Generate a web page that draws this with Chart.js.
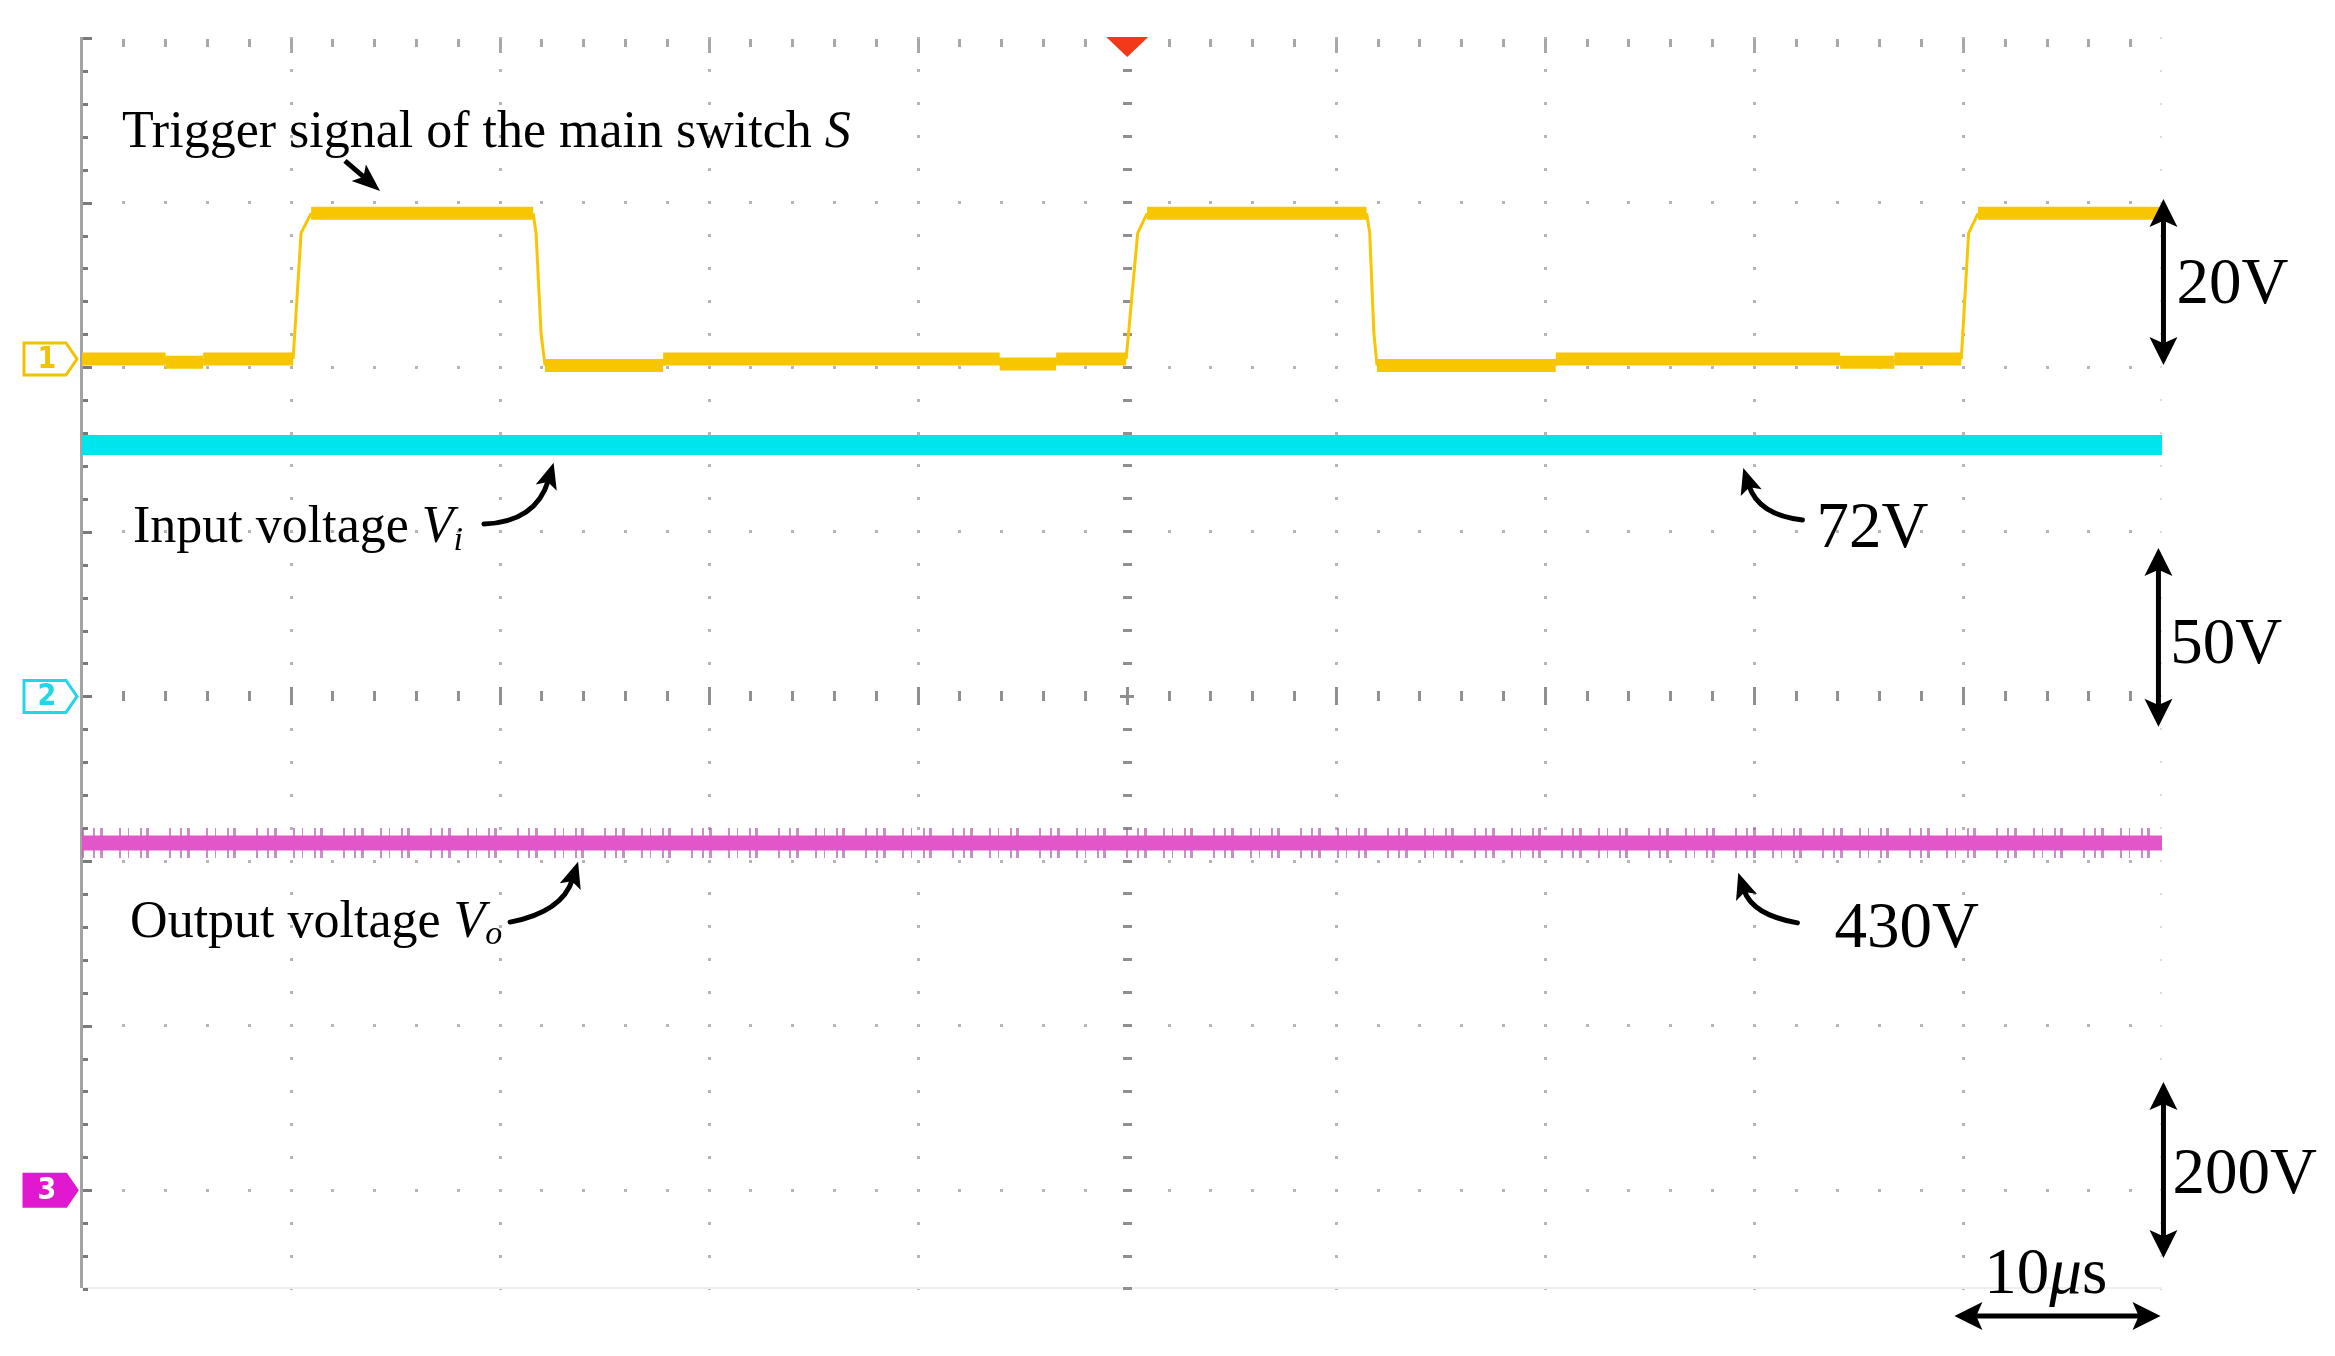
<!DOCTYPE html>
<html><head><meta charset="utf-8">
<script src="https://cdn.jsdelivr.net/npm/chart.js@4.4.1/dist/chart.umd.min.js"></script>
<style>html,body{margin:0;padding:0;background:#fff;}#wrap{width:2335px;height:1356px;position:relative;}</style>
</head><body><div id="wrap"><canvas id="c"></canvas></div>
<script>
// ---- data ----
// time in microseconds (10 us / div), voltages in volts
const trigTime = [0, 4.0, 4.0, 5.8, 5.8, 10.1, 10.48, 10.96, 21.58, 21.72, 21.96, 22.15, 27.8, 27.8, 43.9, 43.9, 46.6, 46.6, 49.95, 50.5, 50.95, 61.45, 61.6, 61.8, 61.95, 70.5, 70.5, 84.1, 84.1, 86.7, 86.7, 89.9, 90.25, 90.7, 99.45];
const trigVolt = [0, 0, -0.4, -0.4, 0, 0, 15.3, 17.7, 17.7, 15.3, 3.1, -0.8, -0.8, 0, 0, -0.6, -0.6, 0, 0, 15.3, 17.7, 17.7, 15.3, 3.1, -0.8, -0.8, 0, 0, -0.4, -0.4, 0, 0, 15.3, 17.7, 17.7];
const viTime = [0, 99.5];
const viVolt = [76.4, 76.4];
const voTime = [0, 99.5];
const voVolt = [422, 422];
const timeDivs = [0, 10, 20, 30, 40, 50, 60, 70, 80, 90];
const channels = ['1', '2', '3'];
const voltsPerDiv = [20, 50, 200];
const groundDiv = [2.05, 0, -3];
const scaleLabels = ['20V', '50V', '200V'];
const timeLabel = ['10', 'μ', 's'];

const toPts = (t, v, ch) => t.map((x, i) => ({x: x, y: groundDiv[ch] + v[i] / voltsPerDiv[ch]}));

const SERIF = '"Liberation Serif", "Times New Roman", serif';

const graticule = {
  id: 'graticule',
  beforeDatasetsDraw(chart) {
    const {ctx, chartArea: a, scales: {x, y}} = chart;
    ctx.save();
    const rect = (px, py, w, h, c) => { ctx.fillStyle = c; ctx.fillRect(Math.round(px - w / 2), Math.round(py - h / 2), w, h); };
    const yMinorVals = []; for (let k = 0; k <= 38; k++) yMinorVals.push(4 - k * 0.2);
    const xMinorVals = []; for (let k = 0; k <= 49; k++) xMinorVals.push(k * 2);
    timeDivs.forEach(t => {
      if (t === 0 || t === 50) return;
      const px = x.getPixelForValue(t);
      yMinorVals.forEach(d => rect(px, y.getPixelForValue(d), 3, 3, '#b5b5b5'));
    });
    yMinorVals.forEach(d => rect(a.right - 1, y.getPixelForValue(d), 2, 2, '#dddddd'));
    [3, 2, 1, -1, -2, -3].forEach(d => {
      const py = y.getPixelForValue(d);
      xMinorVals.forEach(t => { if (t > 0) rect(x.getPixelForValue(t), py, 3, 3, '#b5b5b5'); });
    });
    ctx.fillStyle = '#efefef'; ctx.fillRect(a.left, a.bottom - 1, a.right - a.left, 2);
    xMinorVals.forEach(t => { if (t === 0) return; const maj = t % 10 === 0; rect(x.getPixelForValue(t), a.top + (maj ? 8 : 5), 3, maj ? 14 : 8, '#a8a8a8'); });
    const cy = y.getPixelForValue(0);
    xMinorVals.forEach(t => { if (t === 0) return; const maj = t % 10 === 0; rect(x.getPixelForValue(t), cy, 3, maj ? 18 : 10, '#909090'); });
    const cx = x.getPixelForValue(50);
    yMinorVals.forEach(d => rect(cx, y.getPixelForValue(d), 9, 3, '#909090'));
    rect(cx, cy, 14, 3, '#909090');
    ctx.fillStyle = '#a3a3a3'; ctx.fillRect(a.left - 2, a.top - 1, 3, a.bottom - a.top + 1);
    yMinorVals.forEach((d, k) => { const maj = k % 5 === 0; ctx.fillStyle = '#7a7a7a'; ctx.fillRect(a.left + 1, Math.round(y.getPixelForValue(d)) - 1, maj ? 9 : 5, 3); });
    ctx.fillStyle = '#F23A1B';
    ctx.beginPath(); ctx.moveTo(cx - 21, a.top - 1); ctx.lineTo(cx + 21, a.top - 1); ctx.lineTo(cx, a.top + 19); ctx.closePath(); ctx.fill();
    ctx.restore();
  },
  afterDraw(chart) {
    const {ctx, chartArea: a, scales: {x, y}} = chart;
    const P = (t, d) => [x.getPixelForValue(t), y.getPixelForValue(d)];
    ctx.save();
    const mk = [{stroke: '#F2C200', fill: '#ffffff', text: '#F2C200'}, {stroke: '#22D6E6', fill: '#ffffff', text: '#22D6E6'}, {stroke: '#E018D0', fill: '#E018D0', text: '#ffffff'}];
    channels.forEach((c, i) => {
      const py = y.getPixelForValue(groundDiv[i]);
      const l = a.left - 58, r = a.left - 16, tip = a.left - 5, h = 16;
      ctx.beginPath(); ctx.moveTo(l, py - h); ctx.lineTo(r, py - h); ctx.lineTo(tip, py); ctx.lineTo(r, py + h); ctx.lineTo(l, py + h); ctx.closePath();
      ctx.fillStyle = mk[i].fill; ctx.fill(); ctx.lineWidth = 3; ctx.strokeStyle = mk[i].stroke; ctx.stroke();
      ctx.fillStyle = mk[i].text; ctx.font = 'bold 30px "DejaVu Sans Condensed", "DejaVu Sans", sans-serif'; ctx.textAlign = 'center'; ctx.textBaseline = 'middle';
      ctx.fillText(c, (l + r) / 2 + 2, py + 1);
    });
    ctx.textAlign = 'left'; ctx.textBaseline = 'alphabetic';
    ctx.fillStyle = '#000'; ctx.strokeStyle = '#000';

    const head = (tx, ty, ang, len, half) => {
      const bx = tx - len * Math.cos(ang), by = ty - len * Math.sin(ang);
      const nx = -Math.sin(ang), ny = Math.cos(ang);
      const mx = tx - 0.78 * len * Math.cos(ang), my = ty - 0.78 * len * Math.sin(ang);
      ctx.beginPath(); ctx.moveTo(tx, ty); ctx.lineTo(bx + half * nx, by + half * ny); ctx.lineTo(mx, my); ctx.lineTo(bx - half * nx, by - half * ny); ctx.closePath(); ctx.fill();
    };
    const straight = (p0, p1, w, len, half) => {
      const ang = Math.atan2(p1[1] - p0[1], p1[0] - p0[0]);
      ctx.lineWidth = w; ctx.beginPath(); ctx.moveTo(p0[0], p0[1]);
      ctx.lineTo(p1[0] - 0.7 * len * Math.cos(ang), p1[1] - 0.7 * len * Math.sin(ang)); ctx.stroke();
      head(p1[0], p1[1], ang, len, half);
    };
    const dbl = (p0, p1) => {
      const ang = Math.atan2(p1[1] - p0[1], p1[0] - p0[0]);
      const len = 28, half = 14;
      ctx.lineWidth = 5; ctx.beginPath();
      ctx.moveTo(p0[0] + 0.7 * len * Math.cos(ang), p0[1] + 0.7 * len * Math.sin(ang));
      ctx.lineTo(p1[0] - 0.7 * len * Math.cos(ang), p1[1] - 0.7 * len * Math.sin(ang)); ctx.stroke();
      head(p1[0], p1[1], ang, len, half); head(p0[0], p0[1], ang + Math.PI, len, half);
    };
    const curved = (s, c, e) => {
      const ang = Math.atan2(e[1] - c[1], e[0] - c[0]);
      const len = 26, half = 11;
      const ex = e[0] - 0.7 * len * Math.cos(ang), ey = e[1] - 0.7 * len * Math.sin(ang);
      ctx.lineWidth = 5; ctx.lineCap = 'round'; ctx.beginPath(); ctx.moveTo(s[0], s[1]); ctx.quadraticCurveTo(c[0], c[1], ex, ey); ctx.stroke(); ctx.lineCap = 'butt';
      head(e[0], e[1], ang, len, half);
    };
    const runs = (p, parts) => {
      let cx = p[0];
      parts.forEach(([txt, font, dy]) => { ctx.font = font; ctx.fillText(txt, cx, p[1] + (dy || 0)); cx += ctx.measureText(txt).width; });
    };

    runs(P(1.91, 3.338), [['Trigger signal of the main switch ', '52px ' + SERIF], ['S', 'italic 52px ' + SERIF]]);
    straight(P(12.58, 3.253), P(14.26, 3.071), 5, 28, 11);
    runs(P(2.44, 0.938), [['Input voltage ', '52px ' + SERIF], ['V', 'italic 52px ' + SERIF], ['i', 'italic 34px ' + SERIF, 8]]);
    curved(P(19.23, 1.047), P(21.72, 1.060), P(22.56, 1.420));
    ctx.font = '65px ' + SERIF; ctx.fillText('72V', ...P(82.97, 0.908));
    curved(P(82.30, 1.072), P(80.19, 1.102), P(79.47, 1.388));
    runs(P(2.30, -1.462), [['Output voltage ', '52px ' + SERIF], ['V', 'italic 52px ' + SERIF], ['o', 'italic 34px ' + SERIF, 7]]);
    curved(P(20.48, -1.371), P(22.97, -1.310), P(23.73, -1.005));
    ctx.font = '65px ' + SERIF; ctx.fillText('430V', ...P(83.83, -1.522));
    curved(P(82.06, -1.376), P(79.90, -1.327), P(79.23, -1.072));
    dbl(P(99.57, 3.022), P(99.57, 2.013));
    ctx.font = '65px ' + SERIF; ctx.fillText(scaleLabels[0], ...P(100.19, 2.39));
    dbl(P(99.33, 0.902), P(99.33, -0.185));
    ctx.fillText(scaleLabels[1], ...P(99.9, 0.203));
    dbl(P(99.57, -2.343), P(99.57, -3.412));
    ctx.fillText(scaleLabels[2], ...P(100.0, -3.017));
    runs(P(91.0, -3.624), [[timeLabel[0], '65px ' + SERIF], [timeLabel[1], 'italic 65px ' + SERIF], [timeLabel[2], '65px ' + SERIF]]);
    dbl(P(89.57, -3.764), P(99.43, -3.764));
    ctx.restore();
  }
};

new Chart(document.getElementById('c'), {
  type: 'line',
  data: {
    datasets: [
      {label: 'Trigger signal of the main switch S', data: toPts(trigTime, trigVolt, 0), borderColor: '#F8C600', borderWidth: 3,
        segment: {borderWidth: c => (c.p0.parsed.y === c.p1.parsed.y ? 13 : 3)}, pointRadius: 0, tension: 0, order: 1,
        borderCapStyle: 'butt', borderJoinStyle: 'round'},
      {label: 'Input voltage Vi', data: toPts(viTime, viVolt, 1), borderColor: '#00E4EE', borderWidth: 20, pointRadius: 0, order: 3, borderCapStyle: 'butt'},
      {label: 'Output voltage Vo (ripple)', data: toPts(voTime, voVolt, 2), borderColor: 'rgba(168,84,168,0.65)', borderWidth: 30,
        borderDash: [2, 9, 2, 5, 3, 16, 2, 7, 1, 11, 2, 4, 3, 20], pointRadius: 0, order: 5, borderCapStyle: 'butt'},
      {label: 'Output voltage Vo', data: toPts(voTime, voVolt, 2), borderColor: '#E256CA', borderWidth: 15, pointRadius: 0, order: 4, borderCapStyle: 'butt'}
    ]
  },
  options: {
    responsive: true, maintainAspectRatio: false, animation: false, devicePixelRatio: 1,
    layout: {padding: {left: 82, top: 38, right: 173, bottom: 68}},
    plugins: {legend: {display: false}, tooltip: {enabled: false}},
    scales: {
      x: {type: 'linear', min: 0, max: 99.5, display: false},
      y: {type: 'linear', min: -3.594, max: 4, display: false}
    }
  },
  plugins: [graticule]
});
</script>
</body></html>
